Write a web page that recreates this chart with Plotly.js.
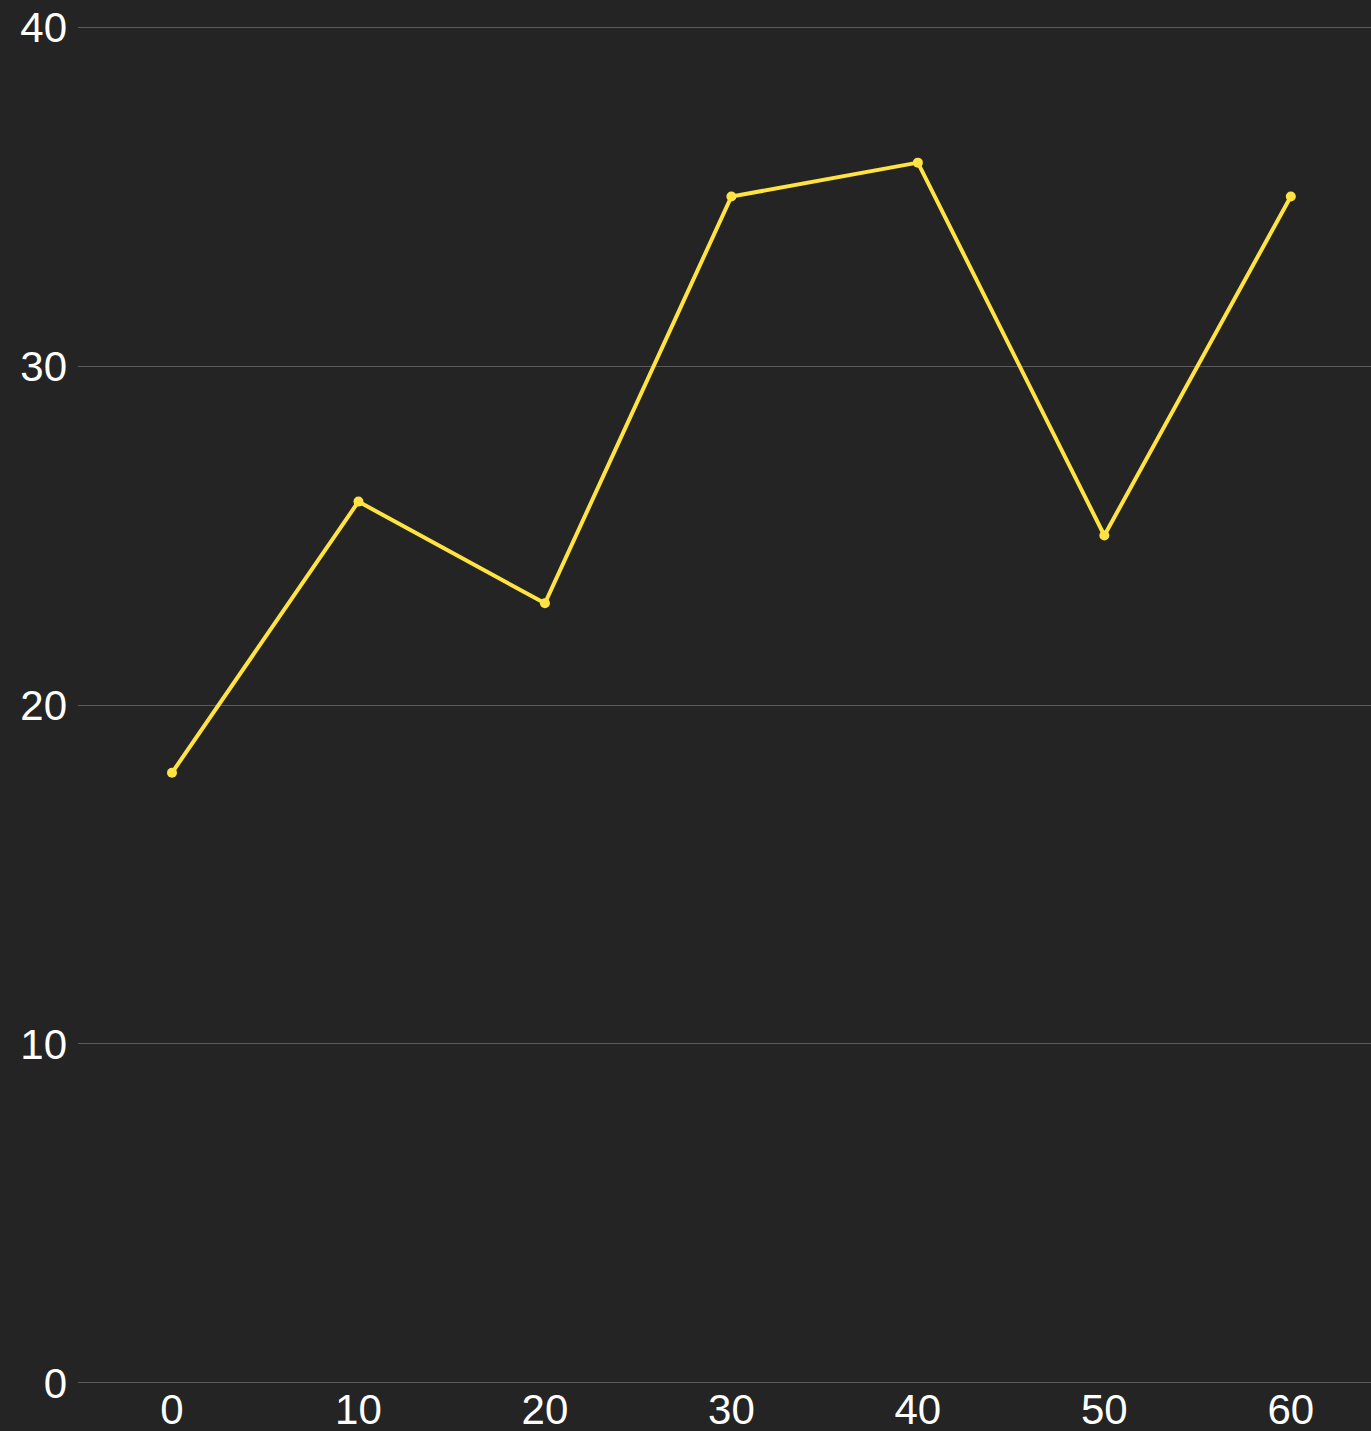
<!DOCTYPE html>
<html>
<head>
<meta charset="utf-8">
<script src="https://cdn.plot.ly/plotly-3.0.1.min.js"></script>
<style>html,body{margin:0;padding:0;background:#242424;}#chart{width:1371px;height:1431px;}</style>
</head>
<body>
<div id="chart"></div>
<script>
const xValues = [0, 10, 20, 30, 40, 50, 60];
const yValues = [18, 26, 23, 35, 36, 25, 35];
const xTicks = [0, 10, 20, 30, 40, 50, 60];
const yTicks = [0, 10, 20, 30, 40];

const trace = {
  x: xValues,
  y: yValues,
  type: 'scatter',
  mode: 'lines+markers',
  line: {color: '#FFE342', width: 4},
  marker: {color: '#FFE342', size: 10},
  hoverinfo: 'none'
};

const layout = {
  width: 1371,
  height: 1431,
  paper_bgcolor: '#242424',
  plot_bgcolor: '#242424',
  margin: {l: 78, r: 0, t: 25, b: 46, pad: 0},
  showlegend: false,
  font: {family: 'Liberation Sans, Arial, sans-serif', color: '#ffffff', size: 42},
  xaxis: {
    range: [-5.04, 64.3],
    tickvals: xTicks,
    ticktext: xTicks.map(String),
    showgrid: false,
    zeroline: false,
    showline: false,
    ticks: '',
    ticklen: 0,
    ticklabelstandoff: -4,
    tickfont: {size: 42, color: '#ffffff'}
  },
  yaxis: {
    range: [-0.06, 40.06],
    tickvals: yTicks,
    ticktext: yTicks.map(String),
    showgrid: true,
    gridcolor: '#5a5a5a',
    gridwidth: 1,
    zeroline: false,
    showline: false,
    ticks: '',
    ticklabelstandoff: 10,
    tickfont: {size: 42, color: '#ffffff'}
  }
};

Plotly.newPlot('chart', [trace], layout, {displayModeBar: false, staticPlot: true});
</script>
</body>
</html>
